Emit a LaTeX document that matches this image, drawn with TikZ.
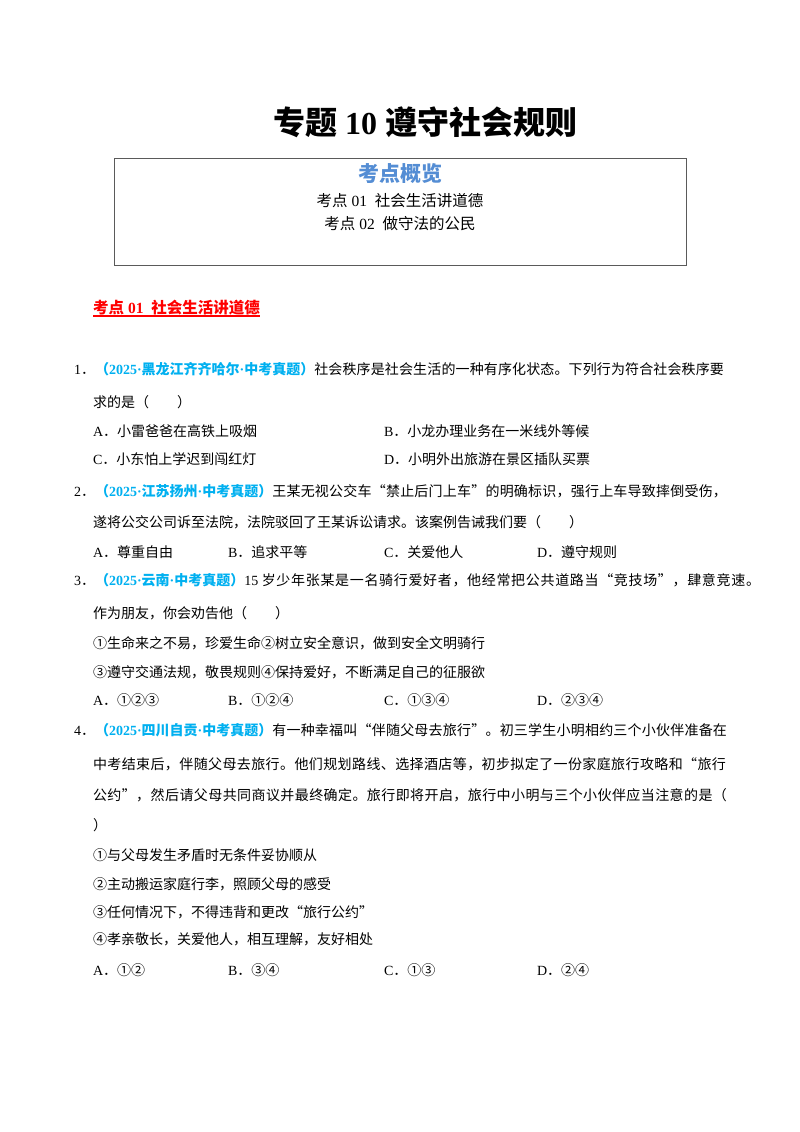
\documentclass[tikz,border=0pt]{standalone}
\usepackage{fontspec}
\setmainfont{Noto Sans CJK SC}
\newfontfamily\latfam{Liberation Serif}
\definecolor{srcblue}{HTML}{00B0F0}
\definecolor{ovblue}{HTML}{548DD4}
\definecolor{boxgray}{HTML}{5A5A5A}
\newcommand\LF[1]{{\latfam #1}}
\newcommand\asp{\hspace{.25em}}
\newcommand\src[1]{{\bfseries\color{srcblue}#1}}
\newcommand\dt{\LF{·}}
\makeatletter
\newcommand\spr[1]{\@tfor\spr@c:=#1\do{\spr@c\hskip 0pt plus 2pt minus 2pt\relax}\unskip}
\makeatother
\newcommand\jline[3]{\makebox[#1][s]{#2\spr{#3}}}
\tikzset{
  txt/.style={anchor=base west, inner sep=0pt, outer sep=0pt, font=\fontsize{14}{14}\selectfont},
  ctxt/.style={anchor=base, inner sep=0pt, outer sep=0pt, font=\fontsize{15.5}{15.5}\selectfont},
}
\begin{document}
\begin{tikzpicture}[x=1pt,y=-1pt]
\useasboundingbox (0,0) rectangle (800,1132);
\fill[white] (0,0) rectangle (800,1132);
% title
\node[anchor=base, inner sep=0pt, font=\fontsize{32}{32}\selectfont\bfseries] (title) at (425,134) {专题\asp\LF{10}\asp 遵守社会规则};
% overview box
\node[draw=boxgray, line width=1.3pt, anchor=north west, minimum width=572pt, minimum height=107pt, inner sep=0pt] (ovbox) at (114,158) {};
\node[anchor=base, inner sep=0pt, text=ovblue, font=\fontsize{21}{21}\selectfont\bfseries] (ovtitle) at (400,181) {考点概览};
\node[ctxt] (ov1) at (400,206) {考点\asp\LF{01}\hspace{.5em}社会生活讲道德};
\node[ctxt] (ov2) at (400,229) {考点\asp\LF{02}\hspace{.5em}做守法的公民};
% section header
\node[anchor=base west, inner sep=0pt, text=red, font=\fontsize{15.5}{15.5}\selectfont\bfseries] (sec1) at (93,313) {考点\asp\LF{01}\hspace{.5em}社会生活讲道德};
\draw[red, line width=1.3pt] ([yshift=-3pt]sec1.base west) -- ([yshift=-3pt]sec1.base east);
% Q1
\node[txt] (q1a) at (74,374) {\jline{650pt}{\LF{1}．\src{（\LF{2025}\dt 黑龙江齐齐哈尔\dt 中考真题）}}{社会秩序是社会生活的一种有序化状态。下列行为符合社会秩序要}};
\node[txt] (q1b) at (93,407) {求的是（\hspace{2em}）};
\node[txt] (q1A) at (93,436) {\LF{A}．小雷爸爸在高铁上吸烟};
\node[txt] (q1B) at (384,436) {\LF{B}．小龙办理业务在一米线外等候};
\node[txt] (q1C) at (93,464) {\LF{C}．小东怕上学迟到闯红灯};
\node[txt] (q1D) at (384,464) {\LF{D}．小明外出旅游在景区插队买票};
% Q2
\node[txt] (q2a) at (74,496) {\jline{653pt}{\LF{2}．\src{（\LF{2025}\dt 江苏扬州\dt 中考真题）}}{王某无视公交车“禁止后门上车”的明确标识，强行上车导致摔倒受伤，}};
\node[txt] (q2b) at (93,527) {遂将公交公司诉至法院，法院驳回了王某诉讼请求。该案例告诫我们要（\hspace{2em}）};
\node[txt] (q2A) at (93,557) {\LF{A}．尊重自由};
\node[txt] (q2B) at (228,557) {\LF{B}．追求平等};
\node[txt] (q2C) at (384,557) {\LF{C}．关爱他人};
\node[txt] (q2D) at (537,557) {\LF{D}．遵守规则};
% Q3
\node[txt] (q3a) at (74,585) {\jline{686pt}{\LF{3}．\src{（\LF{2025}\dt 云南\dt 中考真题）}\LF{15}\asp}{岁少年张某是一名骑行爱好者，他经常把公共道路当“竞技场”，肆意竞速。}};
\node[txt] (q3b) at (93,618) {作为朋友，你会劝告他（\hspace{2em}）};
\node[txt] (q3c) at (93,648) {①生命来之不易，珍爱生命②树立安全意识，做到安全文明骑行};
\node[txt] (q3d) at (93,677) {③遵守交通法规，敬畏规则④保持爱好，不断满足自己的征服欲};
\node[txt] (q3A) at (93,705) {\LF{A}．①②③};
\node[txt] (q3B) at (228,705) {\LF{B}．①②④};
\node[txt] (q3C) at (384,705) {\LF{C}．①③④};
\node[txt] (q3D) at (537,705) {\LF{D}．②③④};
% Q4
\node[txt] (q4a) at (74,735) {\jline{653pt}{\LF{4}．\src{（\LF{2025}\dt 四川自贡\dt 中考真题）}}{有一种幸福叫“伴随父母去旅行”。初三学生小明相约三个小伙伴准备在}};
\node[txt] (q4b) at (93,769) {\jline{633pt}{}{中考结束后，伴随父母去旅行。他们规划路线、选择酒店等，初步拟定了一份家庭旅行攻略和“旅行}};
\node[txt] (q4c) at (93,800) {\jline{634pt}{}{公约”，然后请父母共同商议并最终确定。旅行即将开启，旅行中小明与三个小伙伴应当注意的是（}};
\node[txt] (q4d) at (93,830) {）};
\node[txt] (q4e) at (93,860) {①与父母发生矛盾时无条件妥协顺从};
\node[txt] (q4f) at (93,889) {②主动搬运家庭行李，照顾父母的感受};
\node[txt] (q4g) at (93,917) {③任何情况下，不得违背和更改“旅行公约”};
\node[txt] (q4h) at (93,944) {④孝亲敬长，关爱他人，相互理解，友好相处};
\node[txt] (q4A) at (93,975) {\LF{A}．①②};
\node[txt] (q4B) at (228,975) {\LF{B}．③④};
\node[txt] (q4C) at (384,975) {\LF{C}．①③};
\node[txt] (q4D) at (537,975) {\LF{D}．②④};
\end{tikzpicture}
\end{document}
